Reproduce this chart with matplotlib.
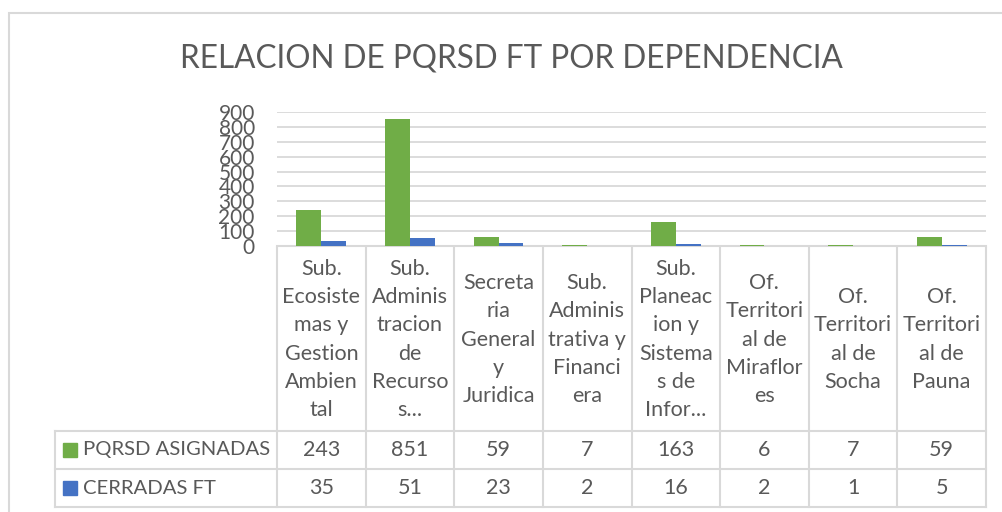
import numpy as np
import matplotlib
matplotlib.use("Agg")
from matplotlib import pyplot as plt
from matplotlib.patches import Rectangle
from matplotlib.transforms import blended_transform_factory


categories = [
    "Sub.\nEcosiste\nmas y\nGestion\nAmbien\ntal",
    "Sub.\nAdminis\ntracion\nde\nRecurso\ns...",
    "Secreta\nria\nGeneral\ny\nJuridica",
    "Sub.\nAdminis\ntrativa y\nFinanci\nera",
    "Sub.\nPlaneac\nion y\nSistema\ns de\nInfor...",
    "Of.\nTerritori\nal de\nMiraflor\nes",
    "Of.\nTerritori\nal de\nSocha",
    "Of.\nTerritori\nal de\nPauna",
]
series_names = ["PQRSD ASIGNADAS", "CERRADAS FT"]
asignadas = [243, 851, 59, 7, 163, 6, 7, 59]
cerradas = [35, 51, 23, 2, 16, 2, 1, 5]
yticks = [0, 100, 200, 300, 400, 500, 600, 700, 800, 900]

GREEN = "#70AD47"
BLUE = "#4472C4"
TEXT = "#595959"
GRID = "#D9D9D9"

plt.rcParams['font.family'] = ['Lato', 'DejaVu Sans']

W, H = 1002, 512
fig = plt.figure(figsize=(W / 100, H / 100), dpi=100)


def fx(px):
    return px / W


def fy(py):
    return 1 - py / H


# chart border
fig.add_artist(Rectangle((fx(9), fy(530)), fx(1010) - fx(9), fy(13) - fy(530),
                         transform=fig.transFigure, fill=False,
                         edgecolor=GRID, lw=1.5))

fig.text(fx(511), fy(58), "RELACION DE PQRSD FT POR DEPENDENCIA",
         ha="center", va="center", fontsize=22.7, color=TEXT)

left, right, top, bottom = 277, 986, 112, 246
ax = fig.add_axes([fx(left), fy(bottom), fx(right) - fx(left), fy(top) - fy(bottom)])

x = np.arange(len(categories))
bw = 0.28
ax.bar(x - bw / 2, asignadas, bw, color=GREEN, zorder=3)
ax.bar(x + bw / 2, cerradas, bw, color=BLUE, zorder=3)

ax.set_xlim(-0.5, len(categories) - 0.5)
ax.set_ylim(0, 900)
ax.set_yticks(yticks)
ax.set_yticklabels([str(v) for v in yticks], fontsize=15, color=TEXT)
ax.tick_params(axis="y", length=0, pad=16)
ax.set_xticks([])
ax.grid(axis="y", color=GRID, lw=1.3, zorder=0)
for s in ["top", "left", "right"]:
    ax.spines[s].set_visible(False)
ax.spines["bottom"].set_color(GRID)
ax.spines["bottom"].set_linewidth(1.5)

# data table below the axes
tr = blended_transform_factory(ax.transData, fig.transFigure)
hdr_top, hdr_bot, row1_bot, row2_bot = 248, 431, 469, 507
lw = 1.5

for i in range(len(categories) + 1):
    ax.plot([i - 0.5, i - 0.5], [fy(hdr_top), fy(row2_bot)], transform=tr,
            color=GRID, lw=lw, clip_on=False)
for yy in [hdr_bot, row1_bot, row2_bot]:
    fig.add_artist(plt.Line2D([fx(55), fx(right)], [fy(yy), fy(yy)],
                              transform=fig.transFigure, color=GRID, lw=lw))
fig.add_artist(plt.Line2D([fx(55), fx(55)], [fy(hdr_bot), fy(row2_bot)],
                          transform=fig.transFigure, color=GRID, lw=lw))

for i, lab in enumerate(categories):
    ax.text(i, fy((hdr_top + hdr_bot) / 2), lab, transform=tr, ha="center",
            va="center", fontsize=15.5, color=TEXT, linespacing=1.52)
    ax.text(i, fy((hdr_bot + row1_bot) / 2), str(asignadas[i]), transform=tr,
            ha="center", va="center", fontsize=15.5, color=TEXT)
    ax.text(i, fy((row1_bot + row2_bot) / 2), str(cerradas[i]), transform=tr,
            ha="center", va="center", fontsize=15.5, color=TEXT)

for name, col, (y0, y1) in zip(series_names, [GREEN, BLUE],
                               [(hdr_bot, row1_bot), (row1_bot, row2_bot)]):
    yc = (y0 + y1) / 2
    fig.add_artist(Rectangle((fx(63), fy(yc + 7)), fx(14), fy(yc - 7) - fy(yc + 7),
                             transform=fig.transFigure, color=col))
    fig.text(fx(83), fy(yc), name, ha="left", va="center", fontsize=14.6, color=TEXT)

fig.savefig("out.png", dpi=100)
